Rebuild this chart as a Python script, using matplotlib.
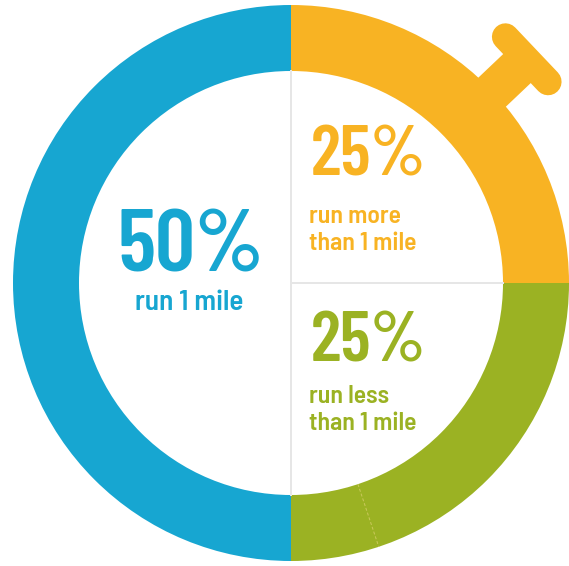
import numpy as np
import matplotlib
matplotlib.use('Agg')
import matplotlib.pyplot as plt

# share of runners by distance
labels = ['run more\nthan 1 mile', 'run less\nthan 1 mile', 'run 1 mile']
shares = [25, 25, 50]
colors = ['#F8B323', '#9BB223', '#17A6D1']

plt.rcParams['font.family'] = ['Barlow Semi Condensed', 'DejaVu Sans']
NUM_FONT = ['Barlow Condensed', 'Barlow Semi Condensed', 'DejaVu Sans']

W, H = 569, 566
cx, cy = 291, 283
R_OUT, R_IN = 278, 212
PT = 72 / 100  # points per pixel

fig = plt.figure(figsize=(W / 100, H / 100), dpi=100)
ax = fig.add_axes([0, 0, 1, 1])

ax.pie(shares, colors=colors, startangle=90, counterclock=False,
       center=(cx, cy), radius=R_OUT,
       wedgeprops=dict(width=R_OUT - R_IN, linewidth=0))

# stopwatch button on the orange arc
ang = np.deg2rad(43.5)
u = np.array([np.cos(ang), np.sin(ang)])
v = np.array([-np.sin(ang), np.cos(ang)])
c = np.array([cx, cy])
p0, p1 = c + u * 262, c + u * 316
ax.plot([p0[0], p1[0]], [p0[1], p1[1]], color=colors[0], lw=40 * PT,
        solid_capstyle='butt')
m = c + u * 325
q0, q1 = m - v * 31, m + v * 31
ax.plot([q0[0], q1[0]], [q0[1], q1[1]], color=colors[0], lw=27 * PT,
        solid_capstyle='round')

# thin dividers inside the ring
grid = '#e6e6e6'
ax.plot([cx, cx], [cy - R_IN, cy + R_IN], color=grid, lw=2 * PT)
ax.plot([cx, cx + R_IN], [cy, cy], color=grid, lw=2 * PT)

# faint seam in the green arc
sa = np.deg2rad(-71.6)
ax.plot([cx + R_IN * np.cos(sa), cx + R_OUT * np.cos(sa)],
        [cy + R_IN * np.sin(sa), cy + R_OUT * np.sin(sa)],
        color='#c9c85a', lw=1 * PT, ls=(0, (3, 2)))

# labels
big = dict(family=NUM_FONT, fontweight=600, va='baseline')
small = dict(fontsize=18.5, fontweight=600, va='baseline')

ax.text(191, 294, '50%', color=colors[2], fontsize=64, ha='center', **big)
ax.text(189, 256, labels[2], color=colors[2], ha='center',
        **{**small, 'fontsize': 21})

ax.text(311, 391, '25%', color=colors[0], fontsize=51, ha='left', **big)
ax.text(309, 316, labels[0], color=colors[0], ha='left', linespacing=1.22,
        **small)

ax.text(311, 204, '25%', color=colors[1], fontsize=51, ha='left', **big)
ax.text(309, 136, labels[1], color=colors[1], ha='left', linespacing=1.22,
        **small)

ax.set_xlim(0, W)
ax.set_ylim(0, H)
ax.set_aspect('equal')
ax.axis('off')

fig.savefig('out.png', dpi=100, facecolor='white')
